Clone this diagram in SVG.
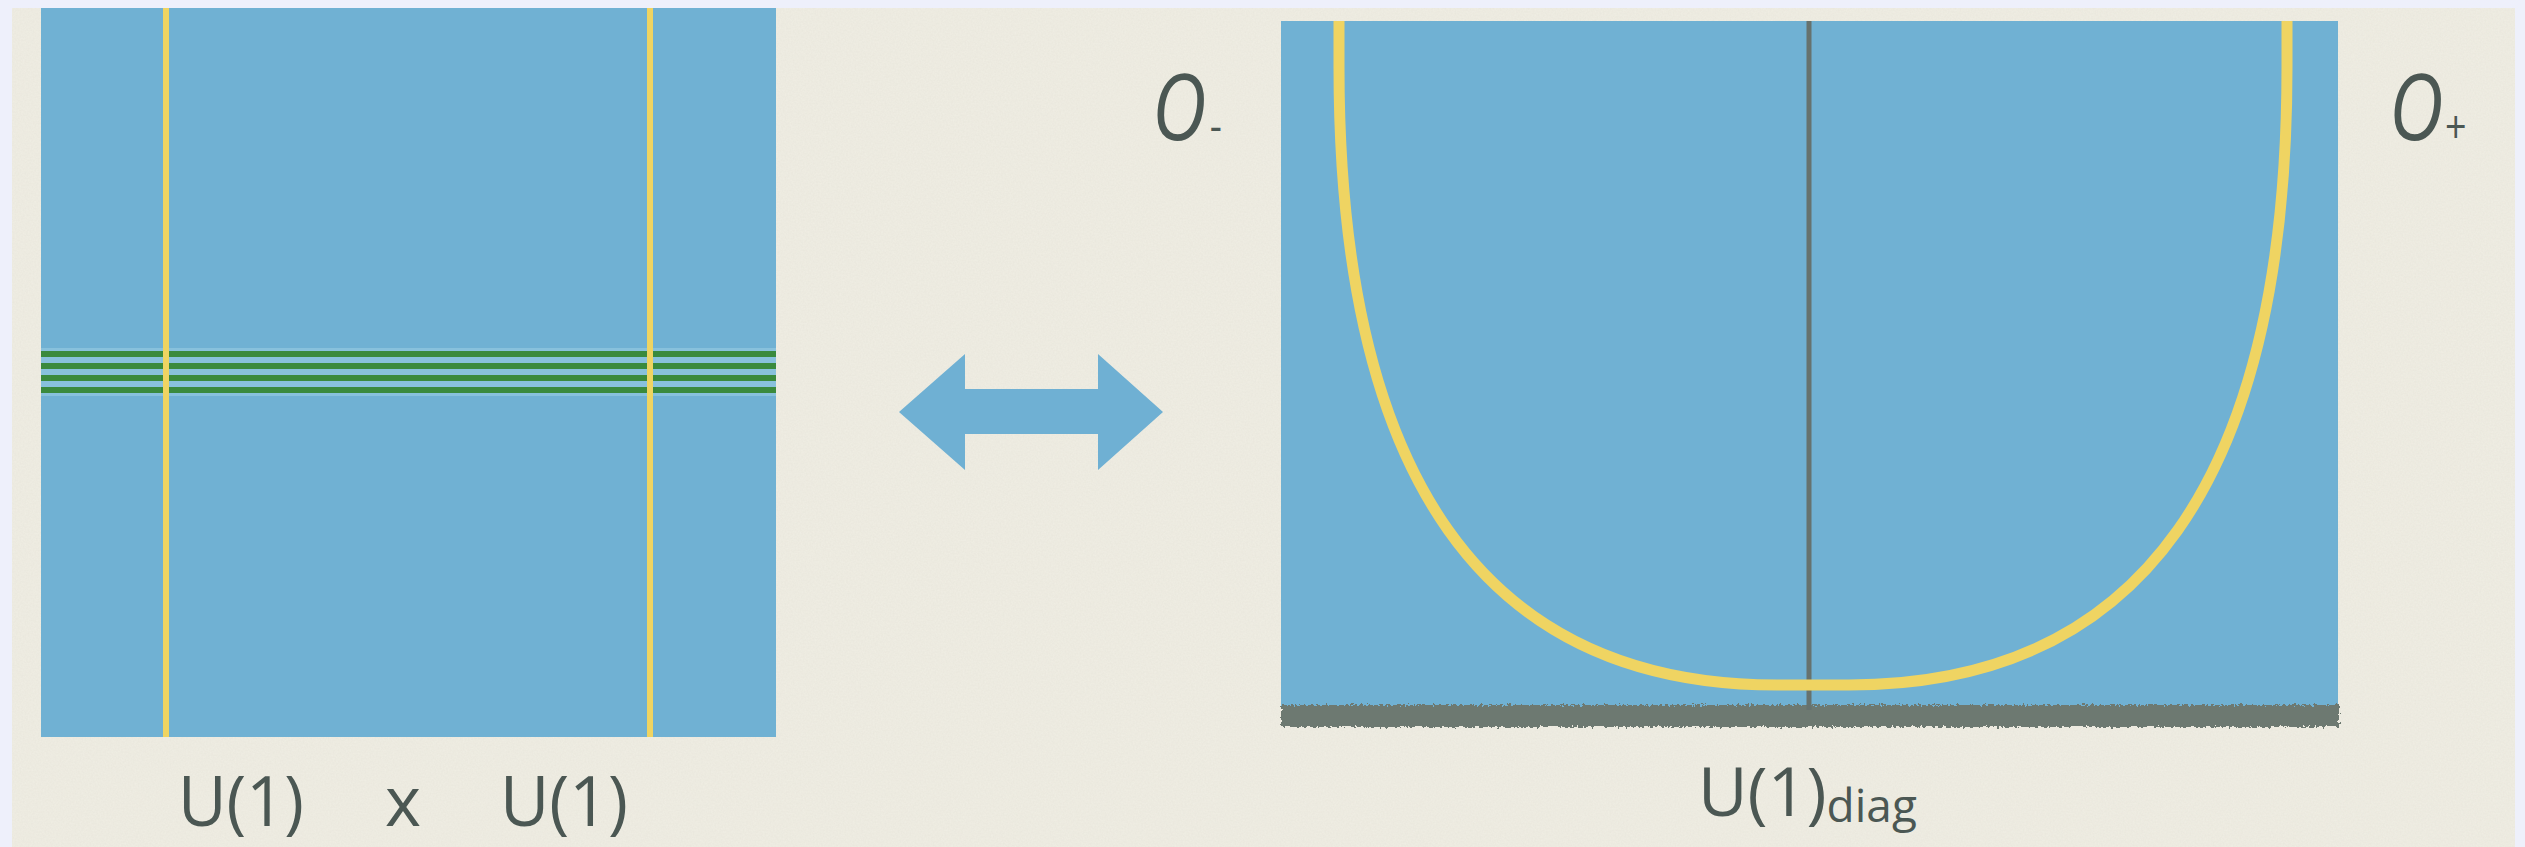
<svg xmlns="http://www.w3.org/2000/svg" width="2525" height="847" viewBox="0 0 2525 847">
  <style>
    .lbl { font-family: "Open Sans", "Noto Sans", "Liberation Sans", sans-serif; fill: #4b5753; }
    .op { font-family: "Open Sans", "Noto Sans", "Liberation Sans", sans-serif; font-style: italic; fill: #4b5753; }
    .sub { font-style: normal; }
    .panel { fill: #70b1d3; }
    .ycut { stroke: #efd462; stroke-width: 6; }
    .green { stroke: #3a8a3d; stroke-width: 6; }
  </style>
  <defs>
    <filter id="paper" x="0" y="0" width="100%" height="100%">
      <feTurbulence type="fractalNoise" baseFrequency="0.6" numOctaves="2" seed="3" result="n"/>
      <feColorMatrix in="n" type="matrix" values="0 0 0 0 0.55  0 0 0 0 0.53  0 0 0 0 0.45  0 0 0 0.16 0" result="c"/>
      <feComposite in="c" in2="SourceGraphic" operator="in"/>
    </filter>
    <filter id="rough" x="-2%" y="-50%" width="104%" height="200%">
      <feTurbulence type="fractalNoise" baseFrequency="0.35" numOctaves="2" seed="2" result="n"/>
      <feDisplacementMap in="SourceGraphic" in2="n" scale="7" xChannelSelector="R" yChannelSelector="G"/>
    </filter>
  </defs>

  <!-- background -->
  <rect x="0" y="0" width="2525" height="847" fill="#eef0fb"/>
  <rect x="12" y="8" width="2503" height="839" fill="#f0eee4"/>
  <rect x="12" y="8" width="2503" height="839" fill="#f0eee4" filter="url(#paper)"/>

  <!-- left panel: U(1) x U(1) -->
  <g id="left-panel">
    <rect class="panel" x="41" y="8" width="735" height="729"/>
    <rect x="41" y="348" width="735" height="48" fill="#88c1dc"/>
    <line class="green" x1="41" y1="354" x2="776" y2="354"/>
    <line class="green" x1="41" y1="366" x2="776" y2="366"/>
    <line class="green" x1="41" y1="378" x2="776" y2="378"/>
    <line class="green" x1="41" y1="390" x2="776" y2="390"/>
    <line class="ycut" x1="166" y1="8" x2="166" y2="737"/>
    <line class="ycut" x1="650" y1="8" x2="650" y2="737"/>
  </g>

  <!-- double arrow -->
  <g id="arrow">
    <polygon points="899,412 965,354 965,389 1098,389 1098,354 1163,412 1098,470 1098,434 965,434 965,470" fill="#6fb0d3"/>
  </g>

  <!-- right panel: U(1)diag -->
  <g id="right-panel">
    <rect class="panel" x="1281" y="21" width="1057" height="686"/>
    <rect x="1281" y="705" width="1058" height="22" fill="#6d7971" filter="url(#rough)"/>
    <line x1="1809" y1="21" x2="1809" y2="710" stroke="#66726e" stroke-width="5"/>
    <path d="M1339,21 L1339,67 Q1339,685 1777,685 L1849,685 Q2287,685 2287,67 L2287,21" fill="none" stroke="#efd462" stroke-width="11"/>
  </g>

  <!-- labels -->
  <g id="labels">
    <text class="lbl" x="178" y="826" font-size="70" textLength="126" lengthAdjust="spacingAndGlyphs">U(1)</text>
    <text class="lbl" x="385" y="826" font-size="70" textLength="36" lengthAdjust="spacingAndGlyphs">x</text>
    <text class="lbl" x="500" y="826" font-size="70" textLength="128" lengthAdjust="spacingAndGlyphs">U(1)</text>
    <text class="lbl" x="1698" y="816" font-size="68">U(1)<tspan font-size="46" dy="6">diag</tspan></text>
    <text class="op" transform="translate(1152,140) scale(0.82,1)" font-size="92">O<tspan class="sub" font-size="46" dx="4" dy="2">-</tspan></text>
    <text class="op" transform="translate(2389,140) scale(0.82,1)" font-size="92">O<tspan class="sub" font-size="46" dx="2" dy="3">+</tspan></text>
  </g>
</svg>
